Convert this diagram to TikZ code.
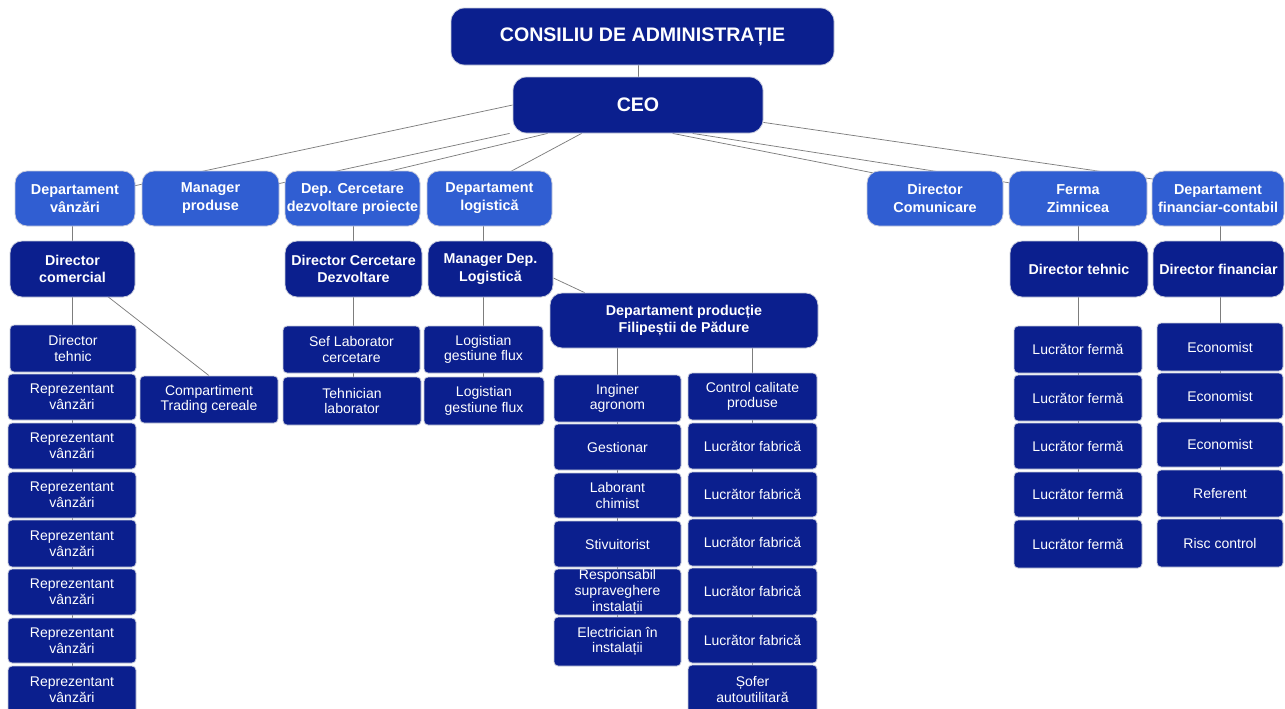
\documentclass[tikz,border=0pt]{standalone}
\usepackage{fontspec}
\setmainfont{Liberation Sans}
\usetikzlibrary{calc}
\pgfdeclarelayer{bg}
\pgfsetlayers{bg,main}
\definecolor{navy}{RGB}{11,31,142}
\definecolor{midblue}{RGB}{48,94,210}
\definecolor{conn}{RGB}{125,125,125}
\definecolor{edge}{RGB}{200,204,220}
\newcommand\bx[7]{\node[#2, minimum width={0.75pt*(#5-#3)}, minimum height={0.75pt*(#6-#4)}] (#1) at ({(#3+#5)/2},{(#4+#6)/2}) {#7};}
\tikzset{
  base/.style={rectangle, draw=edge, line width=0.6pt, text=white, align=center, inner sep=0.5pt},
  headbox/.style={base, fill=navy, rounded corners=10pt, font=\bfseries\fontsize{14.7}{17}\selectfont},
  deptbox/.style={base, fill=midblue, rounded corners=9pt, font=\bfseries\fontsize{10.8}{13.5}\selectfont},
  mgrbox/.style={base, fill=navy, rounded corners=9pt, font=\bfseries\fontsize{10.7}{13}\selectfont},
  staffbox/.style={base, fill=navy, rounded corners=3pt, font=\fontsize{10.5}{11.8}\selectfont},
  link/.style={draw=conn, line width=0.55pt},
}
\begin{document}
\begin{tikzpicture}[x=0.75pt,y=-0.75pt]
\useasboundingbox (0,0) rectangle (1285,708);
% top
\bx{cons}{headbox}{451}{8}{834}{65}{CONSILIU DE ADMINISTRAȚIE}
\bx{ceo}{headbox}{513}{77}{763}{133}{CEO}
% departments
\bx{dv}{deptbox}{15}{171}{135}{226}{Departament\\vânzări}
\bx{mp}{deptbox}{142}{171}{279}{226}{Manager\\produse}
\bx{dc}{deptbox}{285}{171}{420}{226}{Dep. Cercetare\\dezvoltare proiecte}
\bx{dl}{deptbox}{427}{171}{552}{226}{Departament\\logistică}
\bx{dcom}{deptbox}{867}{171}{1003}{226}{Director\\Comunicare}
\bx{fz}{deptbox}{1009}{171}{1147}{226}{Ferma\\Zimnicea}
\bx{df}{deptbox}{1152}{171}{1284}{226}{Departament\\financiar-contabil}
% managers
\bx{dcm}{mgrbox}{10}{241}{135}{297}{Director\\comercial}
\bx{dcc}{mgrbox}{285}{241}{422}{297}{Director Cercetare\\Dezvoltare}
\bx{mdl}{mgrbox}{428}{241}{553}{297}{Manager Dep.\\Logistică}
\bx{dtf}{mgrbox}{1010}{241}{1148}{297}{Director tehnic}
\bx{dfin}{mgrbox}{1153}{241}{1284}{297}{Director financiar}
\bx{dp}{mgrbox}{550}{293}{818}{348}{Departament producție\\Filipeștii de Pădure}
% sales column
\bx{dtc}{staffbox}{10}{325}{136}{372}{Director\\tehnic}
\bx{r1}{staffbox}{8}{374}{136}{420}{Reprezentant\\vânzări}
\bx{r2}{staffbox}{8}{423}{136}{469}{Reprezentant\\vânzări}
\bx{r3}{staffbox}{8}{472}{136}{518}{Reprezentant\\vânzări}
\bx{r4}{staffbox}{8}{520}{136}{567}{Reprezentant\\vânzări}
\bx{r5}{staffbox}{8}{569}{136}{615}{Reprezentant\\vânzări}
\bx{r6}{staffbox}{8}{618}{136}{663}{Reprezentant\\vânzări}
\bx{r7}{staffbox}{8}{666}{136}{714}{Reprezentant\\vânzări}
\bx{trd}{staffbox}{140}{376}{278}{423}{Compartiment\\Trading cereale}
% research / logistics
\bx{sef}{staffbox}{283}{326}{420}{373}{Sef Laborator\\cercetare}
\bx{teh}{staffbox}{283}{377}{421}{425}{Tehnician\\laborator}
\bx{lg1}{staffbox}{424}{326}{543}{373}{Logistian\\gestiune flux}
\bx{lg2}{staffbox}{424}{377}{544}{425}{Logistian\\gestiune flux}
% production
\bx{ing}{staffbox}{554}{375}{681}{422}{Inginer\\agronom}
\bx{ges}{staffbox}{554}{424}{681}{470}{Gestionar}
\bx{lab}{staffbox}{554}{473}{681}{518}{Laborant\\chimist}
\bx{stv}{staffbox}{554}{521}{681}{567}{Stivuitorist}
\bx{rsp}{staffbox}{554}{569}{681}{615}{Responsabil\\supraveghere\\instalații}
\bx{ele}{staffbox}{554}{617}{681}{666}{Electrician în\\instalații}
\bx{ctl}{staffbox}{688}{373}{817}{420}{Control calitate\\produse}
\bx{lf1}{staffbox}{688}{423}{817}{469}{Lucrător fabrică}
\bx{lf2}{staffbox}{688}{472}{817}{517}{Lucrător fabrică}
\bx{lf3}{staffbox}{688}{519}{817}{566}{Lucrător fabrică}
\bx{lf4}{staffbox}{688}{568}{817}{615}{Lucrător fabrică}
\bx{lf5}{staffbox}{688}{617}{817}{663}{Lucrător fabrică}
\bx{sof}{staffbox}{688}{665}{817}{714}{Șofer\\autoutilitară}
% farm
\bx{fm1}{staffbox}{1014}{326}{1142}{373}{Lucrător fermă}
\bx{fm2}{staffbox}{1014}{375}{1142}{421}{Lucrător fermă}
\bx{fm3}{staffbox}{1014}{423}{1142}{469}{Lucrător fermă}
\bx{fm4}{staffbox}{1014}{472}{1142}{517}{Lucrător fermă}
\bx{fm5}{staffbox}{1014}{520}{1142}{568}{Lucrător fermă}
% finance
\bx{ec1}{staffbox}{1157}{323}{1283}{371}{Economist}
\bx{ec2}{staffbox}{1157}{373}{1283}{419}{Economist}
\bx{ec3}{staffbox}{1157}{422}{1283}{467}{Economist}
\bx{refr}{staffbox}{1157}{470}{1283}{517}{Referent}
\bx{rc}{staffbox}{1157}{519}{1283}{567}{Risc control}
% connectors
\begin{pgfonlayer}{bg}
\fill[white] (0,0) rectangle (1285,708);
\draw[link] (ceo.center) -- (ceo.center |- cons.center);
\draw[link] (ceo.west) -- (dv.center);
\draw[link] ($(ceo.south west)+(-3,0)$) -- (mp.center);
\draw[link] ($(ceo.south west)+(35,0)$) -- ($(dc.center)+(-52,-6)$);
\draw[link] ($(ceo.south west)+(69,0)$) -- ($(dl.center)+(-18,-6)$);
\draw[link] ($(ceo.south west)+(160,0)$) -- ($(dcom.center)+(25,-8.5)$);
\draw[link] ($(ceo.south west)+(180,0)$) -- ($(fz.center)+(0,-5)$);
\draw[link] ($(ceo.south east)+(0,-11)$) -- ($(df.center)+(0,-10)$);
\draw[link] (dcm.center) -- (dcm.center |- dv.center);
\draw[link] (dcm.center) -- (dcm.center |- r7.center);
\draw[link] (dcm.center) -- (trd.north);
\draw[link] (dcc.center |- dc.center) -- (dcc.center |- teh.center);
\draw[link] (lg1.center |- dl.center) -- (lg1.center |- lg2.center);
\draw[link] ($(mdl.east)+(0,9)$) -- ($(dp.north west)+(35,0)$);
\draw[link] (ing.center |- dp.center) -- (ing.center |- ele.center);
\draw[link] (ctl.center |- dp.center) -- (ctl.center |- sof.center);
\draw[link] (fz.center) -- (fz.center |- fm5.center);
\draw[link] (ec1.center |- df.center) -- (ec1.center |- rc.center);
\end{pgfonlayer}
\end{tikzpicture}
\end{document}
